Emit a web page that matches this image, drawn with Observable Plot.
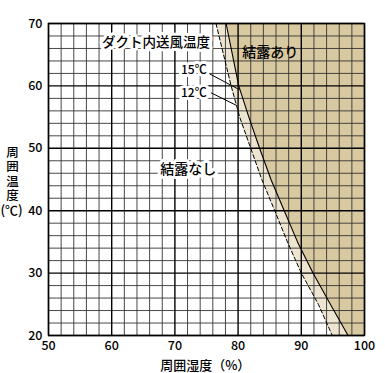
<!DOCTYPE html>
<html>
<head>
<meta charset="utf-8">
<script src="https://cdn.jsdelivr.net/npm/d3@7"></script>
<script src="https://cdn.jsdelivr.net/npm/@observablehq/plot@0.6"></script>
<style>
  html, body { margin: 0; padding: 0; background: #fff; }
  #chart svg { display: block; }
</style>
</head>
<body>
<div id="chart"></div>
<script>
// Ambient temperature (℃) sampled along each boundary line
const temps = [70, 65, 60, 55, 50, 45, 40, 35, 30, 25, 20];
// Ambient humidity (%) on the 15℃ duct-air line (solid)
const rh15 = [78.1, 79.1, 80.1, 81.7, 83.4, 85.2, 87.3, 89.4, 91.85, 94.6, 97.4];
// Ambient humidity (%) on the 12℃ duct-air line (dashed)
const rh12 = [76.5, 77.7, 78.9, 80.25, 82.0, 83.75, 85.8, 87.8, 90.0, 92.7, 94.9];

const xTicks = [50, 60, 70, 80, 90, 100];
const yTicks = [20, 30, 40, 50, 60, 70];
const xGrid = d3.range(50, 101, 2);
const yGrid = d3.range(20, 71, 2);

// Labels (data coordinates)
const labelText = ["ダクト内送風温度", "結露あり", "15℃", "12℃", "結露なし"];
const labelX = [67.0, 85.1, 73.0, 73.0, 72.1];
const labelY = [66.9, 65.35, 62.55, 58.9, 46.6];
const labelSize = [13.5, 14, 12, 12, 14];
const labelHalo = [true, false, true, true, true];

// Leader lines from labels to the curves
const leaderX1 = [75.45, 75.7];
const leaderY1 = [61.95, 58.9];
const leaderX2 = [80.2, 79.7];
const leaderY2 = [59.4, 56.9];

const yTitle = "周囲温度";
const yUnit = "(℃)";
const xTitle = "周囲湿度（%）";

const rows = temps.map((t, i) => ({t, s: rh15[i], d: rh12[i]}));
const labels = labelText.map((text, i) => ({text, x: labelX[i], y: labelY[i], size: labelSize[i], halo: labelHalo[i]}));
const leaders = leaderX1.map((x1, i) => ({x1, y1: leaderY1[i], x2: leaderX2[i], y2: leaderY2[i]}));

const font = "'Noto Sans CJK JP', 'Noto Sans', sans-serif";

const chart = Plot.plot({
  width: 385,
  height: 373,
  marginLeft: 48,
  marginRight: 21,
  marginTop: 23,
  marginBottom: 38,
  style: {fontFamily: font, background: "#fff"},
  x: {domain: [50, 100]},
  y: {domain: [20, 70]},
  marks: [
    Plot.areaX(rows, {y: "t", x1: "s", x2: () => 100, fill: "#d9c9a0"}),
    Plot.areaX(rows, {y: "t", x1: "d", x2: "s", fill: "#eee5d0"}),
    Plot.ruleX(xGrid.filter(v => v % 10 !== 0), {stroke: "#333", strokeWidth: 0.9}),
    Plot.ruleY(yGrid.filter(v => v % 10 !== 0), {stroke: "#333", strokeWidth: 0.9}),
    Plot.ruleX(xGrid.filter(v => v % 10 === 0), {stroke: "#000", strokeWidth: 1.4}),
    Plot.ruleY(yGrid.filter(v => v % 10 === 0), {stroke: "#000", strokeWidth: 1.4}),
    Plot.line(rows, {x: "d", y: "t", stroke: "#000", strokeWidth: 1, strokeDasharray: "4,2.5"}),
    Plot.line(rows, {x: "s", y: "t", stroke: "#000", strokeWidth: 1.1}),
    Plot.frame({stroke: "#000", strokeWidth: 1.4}),
    Plot.link(leaders, {x1: "x1", y1: "y1", x2: "x2", y2: "y2", stroke: "#000", strokeWidth: 1}),
    Plot.text(labels.filter(d => d.halo), {
      x: "x", y: "y", text: "text", fontSize: d => d.size,
      fill: "#000", stroke: "#fff", strokeWidth: 6, fontWeight: 500
    }),
    Plot.text(labels.filter(d => !d.halo), {
      x: "x", y: "y", text: "text", fontSize: d => d.size,
      fill: "#000", fontWeight: 500
    }),
    Plot.axisX(xTicks, {tickSize: 0, tickPadding: 6, fontSize: 12.5, fontWeight: 500, label: null, fill: "#000"}),
    Plot.axisY(yTicks, {tickSize: 0, tickPadding: 6, fontSize: 12.5, fontWeight: 500, label: null, fill: "#000"}),
    Plot.text([yTitle], {frameAnchor: "left", textAnchor: "middle", lineAnchor: "middle", y: [46.4], dx: -36, fontSize: 12.5, fontWeight: 500, fill: "#000"}),
    Plot.text([yUnit], {frameAnchor: "left", textAnchor: "middle", lineAnchor: "middle", y: [39.9], dx: -37, fontSize: 13, fontWeight: 500, fill: "#000"}),
    Plot.text([xTitle], {frameAnchor: "bottom", lineAnchor: "middle", x: [74.8], dy: 30, fontSize: 13, fontWeight: 500, fill: "#000"})
  ]
});

// Stack the y-axis title vertically as a single text element
d3.select(chart).selectAll("text")
  .filter(function () { return this.textContent === yTitle; })
  .attr("dy", null)
  .style("writing-mode", "vertical-rl")
  .style("text-orientation", "upright")
  .style("letter-spacing", "1.8px");

document.getElementById("chart").appendChild(chart);
</script>
</body>
</html>
